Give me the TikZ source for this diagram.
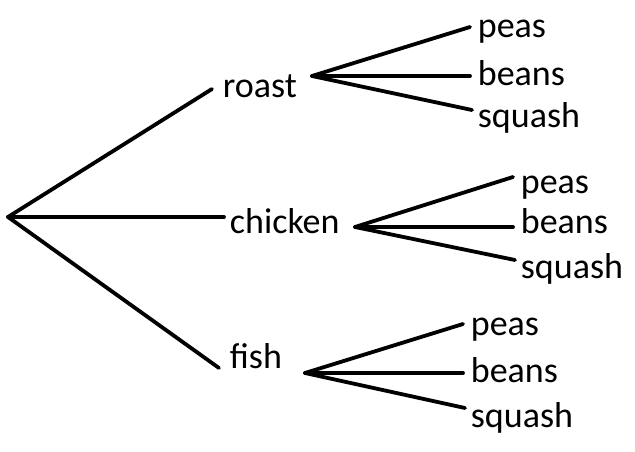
\documentclass[tikz,border=0pt]{standalone}
\usepackage{fontspec}
\setmainfont{Carlito}

\begin{document}
\begin{tikzpicture}[x=1pt,y=-1pt,line width=3.8pt,line cap=round,line join=round,
  lbl/.style={anchor=base west,inner sep=0pt,font=\fontsize{36}{43}\selectfont}]

  \useasboundingbox (0,0) rectangle (635,452);

  % Root and the three meals
  \coordinate (root) at (8,217);
  \node[lbl] (roast) at (221,98) {roast};
  \node[lbl] (chicken) at (228,233) {chicken};
  \node[lbl] (fish) at (228,368) {fish};
  \coordinate (roast-in) at (212,89);
  \coordinate (chicken-in) at (224,217);
  \coordinate (fish-in) at (219,368);
  \foreach \meal in {roast,chicken,fish}
    \draw (root) -- (\meal-in);

  % Branch points for the vegetables
  \coordinate (roast-out) at (312,76);
  \coordinate (chicken-out) at (355,227);
  \coordinate (fish-out) at (305,373);

  % Vegetables: meal / text x / baselines / line ends
  \foreach \meal/\tx/\pa/\be/\sq/\epa/\esq in
    {roast/476/38/85/128/27/110,
     chicken/519/193/233/278/177/260,
     fish/469/335/382/427/324/408}
  {
    \node[lbl] (\meal-peas) at (\tx,\pa) {peas};
    \node[lbl] (\meal-beans) at (\tx,\be) {beans};
    \node[lbl] (\meal-squash) at (\tx,\sq) {squash};
    \coordinate (\meal-peas-in) at (\tx-6,\epa);
    \coordinate (\meal-beans-in) at (\tx-6,0 |- \meal-out);
    \coordinate (\meal-squash-in) at (\tx-4,\esq);
    \foreach \veg in {peas,beans,squash}
      \draw (\meal-out) -- (\meal-\veg-in);
  }

\end{tikzpicture}
\end{document}
